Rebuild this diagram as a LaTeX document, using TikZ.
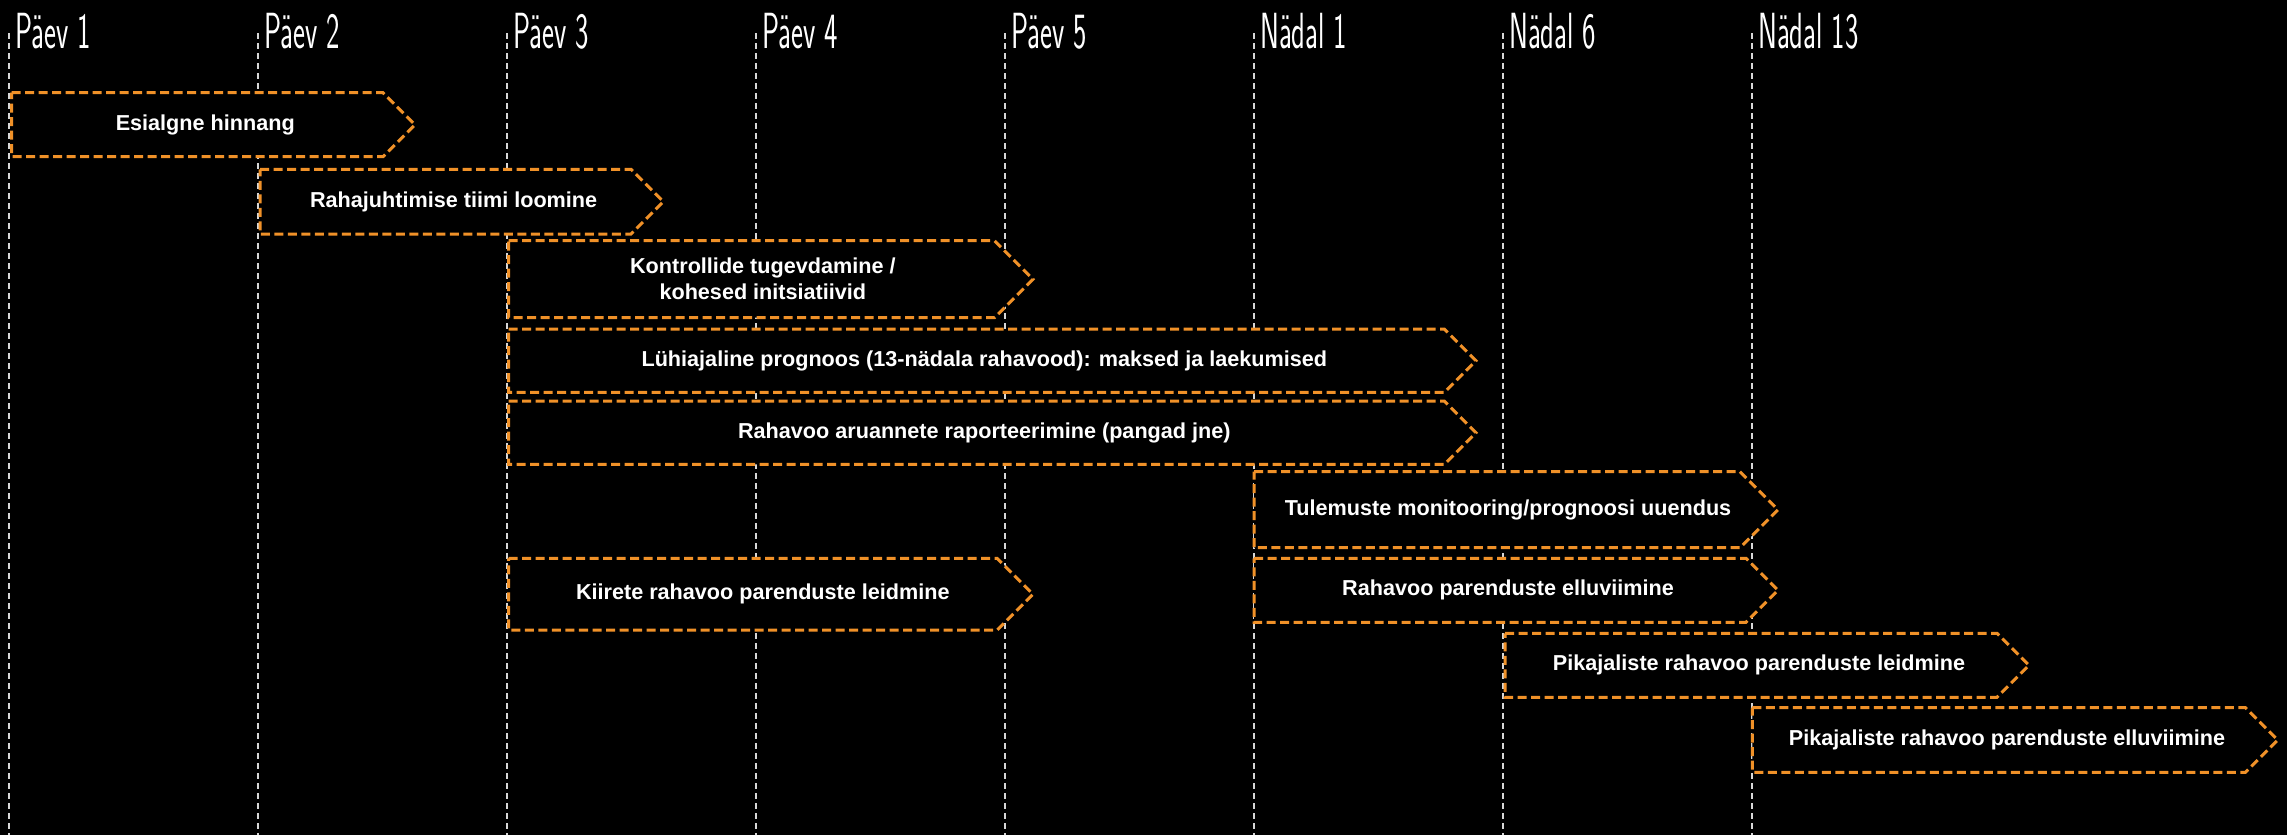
\documentclass[tikz,border=0pt]{standalone}
\usepackage{fontspec}
\setmainfont{Liberation Sans}
\definecolor{gridgray}{RGB}{215,215,215}
\definecolor{phaseorange}{RGB}{240,145,40}
\tikzset{
  gridline/.style={draw=gridgray, line width=1.3bp, dash pattern=on 6bp off 4bp},
  daylabel/.style={anchor=base west, inner sep=0pt, text=white, font=\sffamily\fontsize{51}{51}\selectfont},
  phase/.style={draw=phaseorange, fill=black, line width=3bp, dash pattern=on 9bp off 4.5bp, line join=miter},
  phasetext/.style={text=white, font=\bfseries\fontsize{21.7}{26}\selectfont, align=center, inner sep=0pt},
}
\newcommand{\daytxt}[1]{\scalebox{0.56}[1]{#1}}
\newcommand{\tlbox}[6]{%
  \pgfmathsetmacro\hh{(#4-#3)/2}%
  \pgfmathsetmacro\my{(#4+#3)/2}%
  \pgfmathsetmacro\re{#5-\hh}%
  \pgfmathsetmacro\tx{(#2+#5)/2-8}%
  \draw[phase] (#2,#3) -- (\re,#3) -- (#5,\my) -- (\re,#4) -- (#2,#4) -- cycle;
  \node[phasetext] (#1) at (\tx,\my) {#6};
}
\begin{document}
\begin{tikzpicture}[x=1bp,y=-1bp]
\useasboundingbox (0,0) rectangle (2287,835);
\fill[black] (0,0) rectangle (2287,835);
% vertical grid lines
\foreach \i in {0,...,7}{
  \pgfmathsetmacro\gx{9+249*\i}
  \coordinate (t\i) at (\gx,33);
  \coordinate (b\i) at (\gx,835);
  \draw[gridline] (t\i) -- (b\i);
}
% labels
\node[daylabel] (l0) at (15,48.3) {\daytxt{Päev 1}};
\node[daylabel] (l1) at (264,48.3) {\daytxt{Päev 2}};
\node[daylabel] (l2) at (513,48.3) {\daytxt{Päev 3}};
\node[daylabel] (l3) at (762,48.3) {\daytxt{Päev 4}};
\node[daylabel] (l4) at (1011,48.3) {\daytxt{Päev 5}};
\node[daylabel] (l5) at (1260,48.3) {\daytxt{Nädal 1}};
\node[daylabel] (l6) at (1509,48.3) {\daytxt{Nädal 6}};
\node[daylabel] (l7) at (1758,48.3) {\daytxt{Nädal 13}};
% phases
\tlbox{p1}{11.5}{92.7}{156.7}{415}{Esialgne hinnang}
\tlbox{p2}{260}{169.3}{234}{663.3}{Rahajuhtimise tiimi loomine}
\tlbox{p3}{508.7}{240.7}{317.7}{1033}{Kontrollide tugevdamine /\\kohesed initsiatiivid}
\tlbox{p4}{508.7}{329}{392.3}{1476}{Lühiajaline prognoos (13-nädala rahavood): maksed ja laekumised}
\tlbox{p5}{508.7}{401}{464.3}{1476}{Rahavoo aruannete raporteerimine (pangad jne)}
\tlbox{p6}{1254}{471.7}{547.7}{1778}{Tulemuste monitooring/prognoosi uuendus}
\tlbox{p7}{508.7}{558.3}{630}{1033}{Kiirete rahavoo parenduste leidmine}
\tlbox{p8}{1254}{558.3}{622.3}{1778}{Rahavoo parenduste elluviimine}
\tlbox{p9}{1505}{633.3}{697.3}{2029}{Pikajaliste rahavoo parenduste leidmine}
\tlbox{p10}{1752.4}{707.7}{772.3}{2277.7}{Pikajaliste rahavoo parenduste elluviimine}
\end{tikzpicture}
\end{document}
